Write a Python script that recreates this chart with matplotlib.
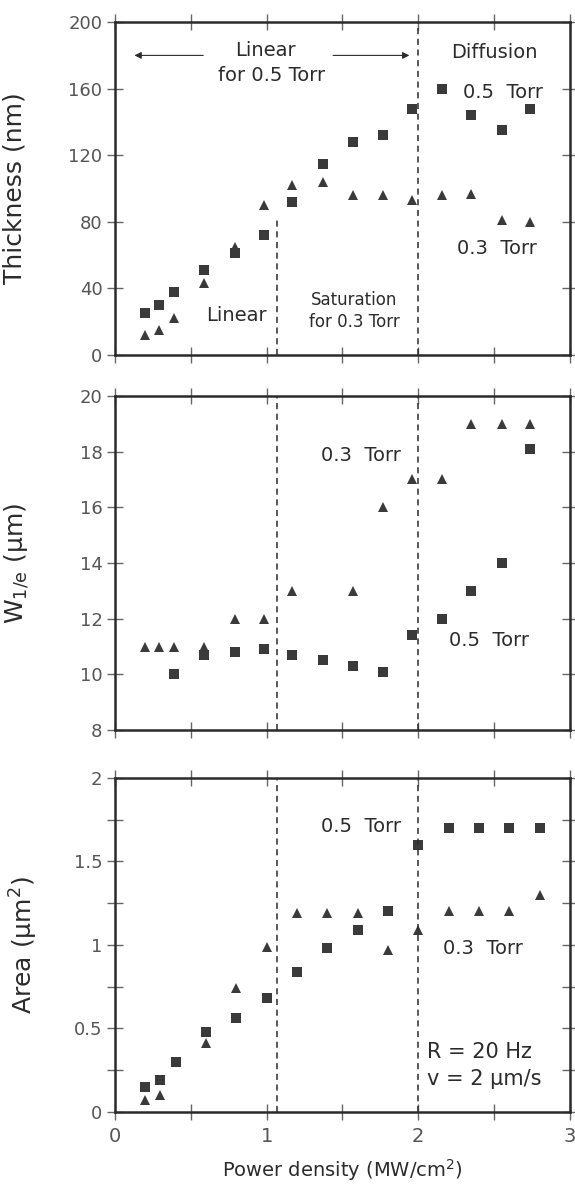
import matplotlib
matplotlib.use('Agg')
import matplotlib.pyplot as plt
from matplotlib.ticker import MultipleLocator

plt.rcParams['font.family'] = ['DejaVu Sans']

# --- data ---
# thickness panel (nm)
thk_x = [0.20, 0.29, 0.39, 0.59, 0.79, 0.98, 1.17, 1.37, 1.57, 1.77, 1.96, 2.16, 2.35, 2.55, 2.74]
thk_05 = [25, 30, 38, 51, 61, 72, 92, 115, 128, 132, 148, 160, 144, 135, 148]
thk_03 = [12, 15, 22, 43, 65, 90, 102, 104, 96, 96, 93, 96, 97, 81, 80]

# W 1/e panel (um)
w05_x = [0.39, 0.59, 0.79, 0.98, 1.17, 1.37, 1.57, 1.77, 1.96, 2.16, 2.35, 2.55, 2.74]
w05 = [10.0, 10.7, 10.8, 10.9, 10.7, 10.5, 10.3, 10.1, 11.4, 12.0, 13.0, 14.0, 18.1]
w03_x = [0.20, 0.29, 0.39, 0.59, 0.79, 0.98, 1.17, 1.57, 1.77, 1.96, 2.16, 2.35, 2.55, 2.74]
w03 = [11, 11, 11, 11, 12, 12, 13, 13, 16, 17, 17, 19, 19, 19]

# area panel (um^2)
a05_x = [0.2, 0.3, 0.4, 0.6, 0.8, 1.0, 1.2, 1.4, 1.6, 1.8, 2.0, 2.2, 2.4, 2.6, 2.8]
a05 = [0.15, 0.19, 0.30, 0.48, 0.56, 0.68, 0.84, 0.98, 1.09, 1.20, 1.60, 1.70, 1.70, 1.70, 1.70]
a03_x = [0.2, 0.3, 0.6, 0.8, 1.0, 1.2, 1.4, 1.6, 1.8, 2.0, 2.2, 2.4, 2.6, 2.8]
a03 = [0.07, 0.10, 0.41, 0.74, 0.99, 1.19, 1.19, 1.19, 0.97, 1.09, 1.20, 1.20, 1.20, 1.30]

dash_x = [1.07, 2.0]

ink = '#2b2b2b'
tickc = '#666666'

fig = plt.figure(figsize=(5.75, 11.89), dpi=100)
ax1 = fig.add_axes([0.200, 0.7014, 0.791, 0.280])
ax2 = fig.add_axes([0.200, 0.3860, 0.791, 0.281])
ax3 = fig.add_axes([0.200, 0.0648, 0.791, 0.281])


def style(ax, ylim, ystep, yminor=None):
    ax.set_xlim(0, 3)
    ax.set_ylim(*ylim)
    ax.xaxis.set_major_locator(MultipleLocator(1))
    ax.xaxis.set_minor_locator(MultipleLocator(0.5))
    ax.yaxis.set_major_locator(MultipleLocator(ystep))
    if yminor:
        ax.yaxis.set_minor_locator(MultipleLocator(yminor))
    for s in ax.spines.values():
        s.set_linewidth(1.8)
        s.set_color(ink)
    ax.tick_params(which='both', direction='inout', top=True, right=True,
                   length=12, width=1.0, color=tickc, labelcolor='#555555',
                   labelsize=13, pad=3)
    ax.tick_params(axis='x', labelsize=14, pad=5)


def marks(ax, xs, ys, m, ms):
    ax.plot(xs, ys, linestyle='none', marker=m, markersize=ms,
            color='#3a3a3a', markeredgewidth=0)


# ---- top panel ----
style(ax1, (0, 200), 40)
ax1.set_xticklabels([])
marks(ax1, thk_x, thk_05, 's', 6.8)
marks(ax1, thk_x, thk_03, '^', 7.2)
ax1.plot([dash_x[0], dash_x[0]], [0, 82], ls=(0, (4, 3)), color=ink, lw=1.1)
ax1.axvline(dash_x[1], ls=(0, (4, 3)), color=ink, lw=1.1)
ax1.set_ylabel('Thickness (nm)', fontsize=18, color=ink)
ax1.yaxis.set_label_coords(-0.195, 0.5)
ax1.annotate('', xy=(0.11, 180), xytext=(0.60, 180),
             arrowprops=dict(arrowstyle='-|>', color=ink, lw=0.8))
ax1.annotate('', xy=(1.96, 180), xytext=(1.42, 180),
             arrowprops=dict(arrowstyle='-|>', color=ink, lw=0.8))
tk = dict(color=ink, fontsize=14, ha='center', va='center')
ax1.text(0.99, 183, 'Linear', **tk)
ax1.text(1.03, 168, 'for 0.5 Torr', **tk)
ax1.text(2.50, 182, 'Diffusion', **tk)
ax1.text(2.56, 158, '0.5  Torr', **tk)
ax1.text(2.52, 64, '0.3  Torr', **tk)
ax1.text(0.80, 24, 'Linear', **tk)
ax1.text(1.58, 33, 'Saturation', color=ink, fontsize=12, ha='center', va='center')
ax1.text(1.58, 20, 'for 0.3 Torr', color=ink, fontsize=12, ha='center', va='center')

# ---- middle panel ----
style(ax2, (8, 20), 2)
ax2.set_xticklabels([])
marks(ax2, w05_x, w05, 's', 6.8)
marks(ax2, w03_x, w03, '^', 7.2)
for x in dash_x:
    ax2.axvline(x, ls=(0, (4, 3)), color=ink, lw=1.1)
ax2.set_ylabel(r'W$_{\mathregular{1/e}}$ (μm)', fontsize=18, color=ink)
ax2.yaxis.set_label_coords(-0.185, 0.5)
ax2.text(1.62, 17.85, '0.3  Torr', **tk)
ax2.text(2.47, 11.2, '0.5  Torr', **tk)

# ---- bottom panel ----
style(ax3, (0, 2), 0.5, 0.25)
ax3.set_yticks([0, 0.5, 1, 1.5, 2])
ax3.set_yticklabels(['0', '0.5', '1', '1.5', '2'])
ax3.set_xticks([0, 1, 2, 3])
ax3.set_xticklabels(['0', '1', '2', '3'])
marks(ax3, a05_x, a05, 's', 6.8)
marks(ax3, a03_x, a03, '^', 7.2)
for x in dash_x:
    ax3.axvline(x, ls=(0, (4, 3)), color=ink, lw=1.1)
ax3.set_ylabel(r'Area (μm$^\mathregular{2}$)', fontsize=18, color=ink)
ax3.yaxis.set_label_coords(-0.165, 0.5)
ax3.set_xlabel(r'Power density (MW/cm$^\mathregular{2}$)', fontsize=14, color=ink, labelpad=8)
ax3.text(1.62, 1.71, '0.5  Torr', **tk)
ax3.text(2.43, 0.98, '0.3  Torr', **tk)
ax3.text(2.06, 0.36, 'R = 20 Hz', color=ink, fontsize=15, ha='left', va='center')
ax3.text(2.06, 0.20, 'v = 2 μm/s', color=ink, fontsize=15, ha='left', va='center')

fig.savefig('out.png', dpi=100)
